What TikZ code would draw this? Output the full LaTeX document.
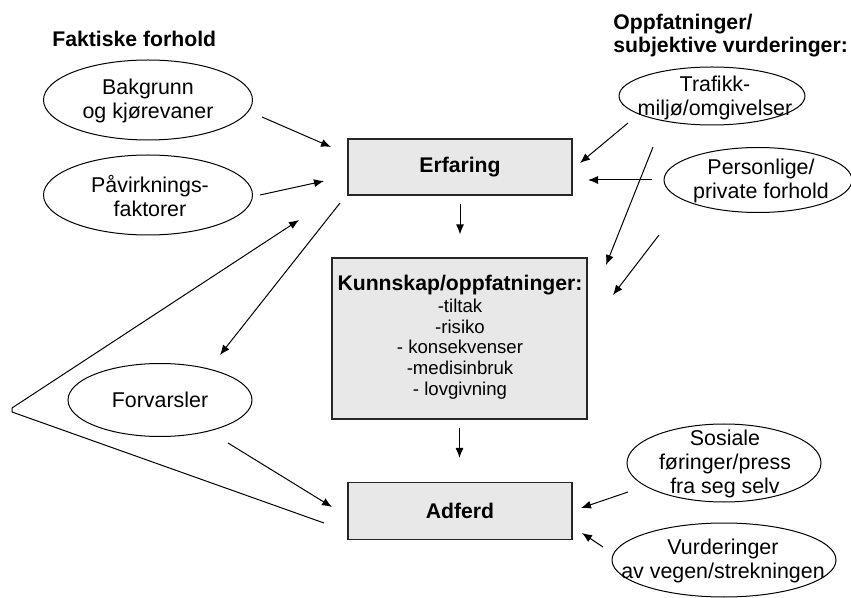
\documentclass[tikz,border=0pt]{standalone}
\usepackage{fontspec}
\setmainfont{Liberation Sans}
\usetikzlibrary{arrows.meta,shapes.geometric}
\definecolor{boxfill}{HTML}{E8E8E8}
\definecolor{edge}{HTML}{262626}

\begin{document}
\begin{tikzpicture}[
  x=0.5pt, y=-0.5pt,
  >={Latex[length=5pt,width=4pt]},
  oval/.style={draw, ellipse, line width=0.5pt, inner sep=0pt},
  ovaltxt/.style={font=\fontsize{10.7}{12}\selectfont, align=center, inner sep=0pt},
  boxnode/.style={draw=edge, fill=boxfill, line width=0.6pt, minimum width=112pt, minimum height=28pt, font=\bfseries\fontsize{10.6}{12}\selectfont},
  head/.style={font=\bfseries\fontsize{10.6}{11.5}\selectfont, align=left, inner sep=0pt},
  link/.style={->, line width=0.5pt},
]
\useasboundingbox (0,0) rectangle (851,598);

% headings
\node[head, anchor=base west] (hfakt) at (52,47) {Faktiske forhold};
\node[head, anchor=north west] (hoppf) at (613,14) {Oppfatninger/\\subjektive vurderinger:};

% left ovals
\node[oval, minimum width=104.5pt, minimum height=40pt] (bak) at (148,100) {};
\node[ovaltxt] (bakt) at (148,101) {Bakgrunn\\og kjørevaner};

\node[oval, minimum width=104.5pt, minimum height=40pt] (pav) at (148,195) {};
\node[ovaltxt] (pavt) at (150,196) {Påvirknings-\\faktorer};

\node[oval, minimum width=92pt, minimum height=36.5pt] (forv) at (160,400) {};
\node[ovaltxt] (forvt) at (160,400) {Forvarsler};

% boxes
\node[boxnode] (erf) at (460,167) {Erfaring};

\node[boxnode, minimum width=127.5pt, minimum height=80.5pt] (kun) at (459.5,338.5) {};
\node[font=\bfseries\fontsize{10.6}{12}\selectfont, inner sep=0pt] (kunt) at (460,285) {Kunnskap/oppfatninger:};
\node[font=\fontsize{9.3}{10.4}\selectfont, align=center, inner sep=0pt] (kunl) at (460,349) {-tiltak\\-risiko\\- konsekvenser\\-medisinbruk\\- lovgivning};

\node[boxnode, minimum height=28.5pt] (adf) at (460,511) {Adferd};

% right ovals
\node[oval, minimum width=93pt, minimum height=29pt] (traf) at (712,96) {};
\node[ovaltxt] (traft) at (715,98) {Trafikk-\\miljø/omgivelser};

\node[oval, minimum width=94pt, minimum height=32.5pt] (pers) at (758,180) {};
\node[ovaltxt] (perst) at (761,181) {Personlige/\\private forhold};

\node[oval, minimum width=97pt, minimum height=39pt] (sos) at (724,463) {};
\node[ovaltxt] (sost) at (725,464) {Sosiale\\føringer/press\\fra seg selv};

\node[oval, minimum width=112pt, minimum height=37pt] (vur) at (724,560) {};
\node[ovaltxt] (vurt) at (723,561) {Vurderinger\\av vegen/strekningen};

% arrow ends
\coordinate (a1s) at (262,117); \coordinate (a1e) at (331,147);
\coordinate (a2s) at (260,195); \coordinate (a2e) at (324,181);
\coordinate (fbs) at (324,523); \coordinate (fbl) at (12,412);
\coordinate (fbu) at (12,408);  \coordinate (fbe) at (299,220);
\coordinate (a4s) at (340,203); \coordinate (a4e) at (220,355);
\coordinate (a5s) at (228,443); \coordinate (a5e) at (332,507);
\coordinate (a8s) at (628,123); \coordinate (a8e) at (580,163);
\coordinate (a9s) at (653,147); \coordinate (a9e) at (606,265);
\coordinate (a10s) at (652,180); \coordinate (a10e) at (588,180);
\coordinate (a11s) at (659,235); \coordinate (a11e) at (613,295);
\coordinate (a12s) at (628,492); \coordinate (a12e) at (581,508);
\coordinate (a13s) at (603,547); \coordinate (a13e) at (582,533);

% arrows
\draw[link] (a1s) -- (a1e);
\draw[link] (a2s) -- (a2e);
\draw[link] (fbs) -- (fbl) -- (fbu) -- (fbe);
\draw[link] (a4s) -- (a4e);
\draw[link] (a5s) -- (a5e);
\draw[link, shorten <=4pt, shorten >=11.5pt] (erf.south) -- (kun.north -| erf.south);
\draw[link, shorten <=4pt, shorten >=12pt] (kun.south) -- (adf.north -| kun.south);
\draw[link] (a8s) -- (a8e);
\draw[link] (a9s) -- (a9e);
\draw[link] (a10s) -- (a10e);
\draw[link] (a11s) -- (a11e);
\draw[link] (a12s) -- (a12e);
\draw[link] (a13s) -- (a13e);

\end{tikzpicture}
\end{document}
